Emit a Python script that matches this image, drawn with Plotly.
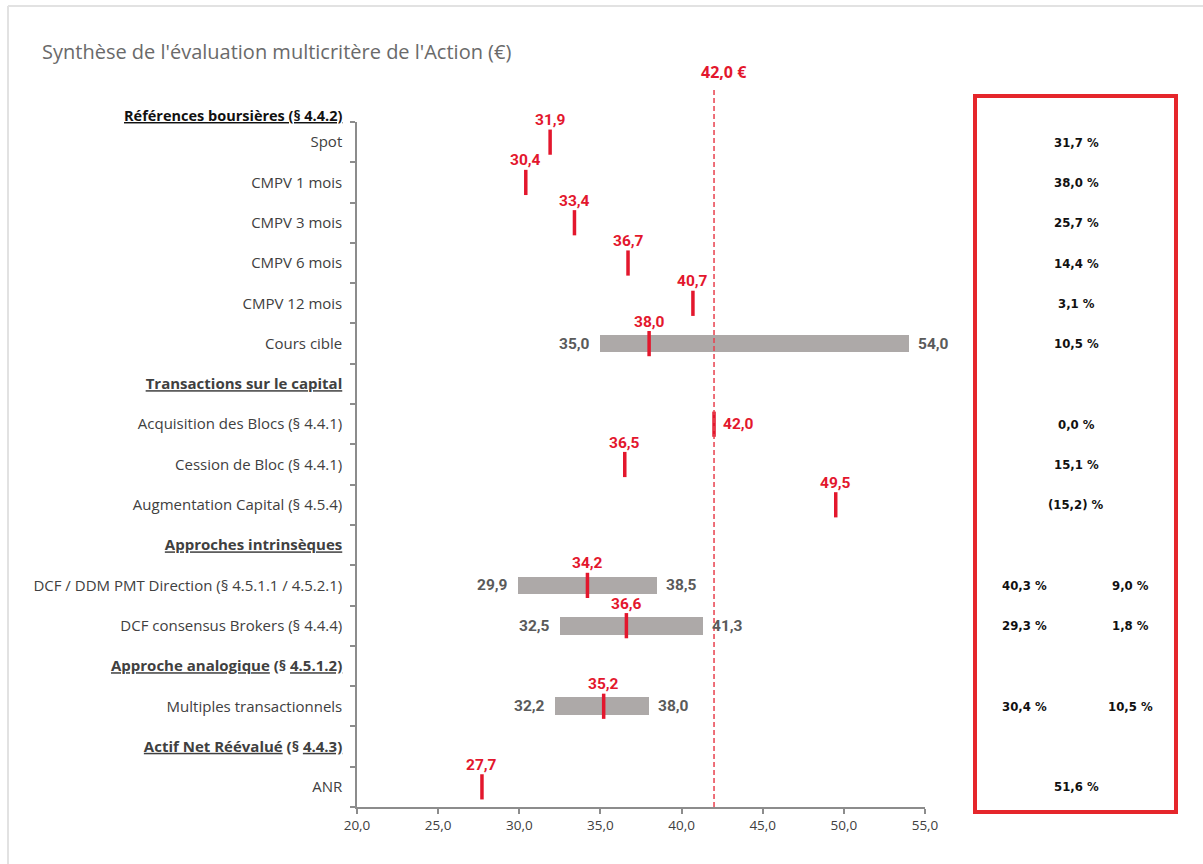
import plotly.graph_objects as go

# ---------------------------------------------------------------------------
# Data
# ---------------------------------------------------------------------------
top_header = "Références boursières (§ 4.4.2)"

rows = [
    "Spot",
    "CMPV 1 mois",
    "CMPV 3 mois",
    "CMPV 6 mois",
    "CMPV 12 mois",
    "Cours cible",
    "Transactions sur le capital",
    "Acquisition des Blocs (§ 4.4.1)",
    "Cession de Bloc (§ 4.4.1)",
    "Augmentation Capital (§ 4.5.4)",
    "Approches intrinsèques",
    "DCF / DDM PMT Direction (§ 4.5.1.1 / 4.5.2.1)",
    "DCF consensus Brokers (§ 4.4.4)",
    "Approche analogique (§ 4.5.1.2)",
    "Multiples transactionnels",
    "Actif Net Réévalué (§ 4.4.3)",
    "ANR",
]
section_rows = [
    "Transactions sur le capital",
    "Approches intrinsèques",
    "Approche analogique (§ 4.5.1.2)",
    "Actif Net Réévalué (§ 4.4.3)",
]

point_rows = [
    "Spot", "CMPV 1 mois", "CMPV 3 mois", "CMPV 6 mois", "CMPV 12 mois",
    "Cours cible", "Acquisition des Blocs (§ 4.4.1)", "Cession de Bloc (§ 4.4.1)",
    "Augmentation Capital (§ 4.5.4)", "DCF / DDM PMT Direction (§ 4.5.1.1 / 4.5.2.1)",
    "DCF consensus Brokers (§ 4.4.4)", "Multiples transactionnels", "ANR",
]
point_values = [31.9, 30.4, 33.4, 36.7, 40.7, 38.0, 42.0, 36.5, 49.5, 34.2, 36.6, 35.2, 27.7]

range_rows = [
    "Cours cible",
    "DCF / DDM PMT Direction (§ 4.5.1.1 / 4.5.2.1)",
    "DCF consensus Brokers (§ 4.4.4)",
    "Multiples transactionnels",
]
range_low = [35.0, 29.9, 32.5, 32.2]
range_high = [54.0, 38.5, 41.3, 38.0]

offer_price = 42.0

# Premium offered by the price vs each reference (%)
premium_rows = [
    "Spot", "CMPV 1 mois", "CMPV 3 mois", "CMPV 6 mois", "CMPV 12 mois",
    "Cours cible", "Acquisition des Blocs (§ 4.4.1)", "Cession de Bloc (§ 4.4.1)",
    "Augmentation Capital (§ 4.5.4)", "ANR",
]
premium_values = [31.7, 38.0, 25.7, 14.4, 3.1, 10.5, 0.0, 15.1, -15.2, 51.6]

premium_pair_rows = [
    "DCF / DDM PMT Direction (§ 4.5.1.1 / 4.5.2.1)",
    "DCF consensus Brokers (§ 4.4.4)",
    "Multiples transactionnels",
]
premium_vs_low = [40.3, 29.3, 30.4]
premium_vs_high = [9.0, 1.8, 10.5]

x_ticks = [20, 25, 30, 35, 40, 45, 50, 55]

# ---------------------------------------------------------------------------
# Styling
# ---------------------------------------------------------------------------
RED = "#E3172D"
RED_LINE = "#E8404E"
BAR_GREY = "#ADA9A8"
DARK_GREY = "#5A5A5A"
AXIS_GREY = "#8C8C8C"
LABEL_FONT = "Open Sans"
NUM_FONT = "Roboto"
BOX_FONT = "DejaVu Sans Condensed"

W, H = 1203, 864
PLOT_L, PLOT_R, PLOT_T, PLOT_B = 357, 925, 122, 807


def px(x):
    return (x - PLOT_L) / (PLOT_R - PLOT_L)


def py(y):
    return (PLOT_B - y) / (PLOT_B - PLOT_T)


def fr(v):
    return f"{v:.1f}".replace(".", ",")


def pct(v):
    return f"({fr(-v)}) %" if v < 0 else f"{fr(v)} %"


def section_markup(name):
    if "(§" in name:
        head, ref = name.split(" (§ ")
        return f"<b><u>{head}</u> (§ <u>{ref}</u></b>"
    return f"<b><u>{name}</u></b>"


row_idx = {name: i for i, name in enumerate(rows)}

tick_text = [
    section_markup(r) if r in section_rows else r
    for r in rows
]

fig = go.Figure()

# Grey valuation ranges
fig.add_trace(go.Bar(
    orientation="h",
    y=[row_idx[r] for r in range_rows],
    x=[h - l for l, h in zip(range_low, range_high)],
    base=range_low,
    width=0.44,
    marker=dict(color=BAR_GREY, line=dict(width=0)),
    hoverinfo="skip",
    showlegend=False,
))

# Red central values
fig.add_trace(go.Scatter(
    x=point_values,
    y=[row_idx[r] for r in point_rows],
    mode="markers",
    marker=dict(symbol="line-ns", size=18, line=dict(width=3.5, color=RED)),
    hoverinfo="skip",
    showlegend=False,
))

annotations = []

# Value labels above each central mark (to the right when on the offer line)
for r, v in zip(point_rows, point_values):
    if v == offer_price:
        annotations.append(dict(
            x=v, y=row_idx[r], xref="x", yref="y", text=f"<b>{fr(v)}</b>",
            showarrow=False, xanchor="left", xshift=7,
            font=dict(family=NUM_FONT, size=15.5, color=RED),
        ))
    else:
        annotations.append(dict(
            x=v, y=row_idx[r], xref="x", yref="y", text=f"<b>{fr(v)}</b>",
            showarrow=False, xanchor="center", yshift=22,
            font=dict(family=NUM_FONT, size=15.5, color=RED),
        ))

# Range bounds next to the grey bars
for r, lo, hi in zip(range_rows, range_low, range_high):
    annotations.append(dict(
        x=lo, y=row_idx[r], xref="x", yref="y", text=f"<b>{fr(lo)}</b>",
        showarrow=False, xanchor="right", xshift=-8,
        font=dict(family=NUM_FONT, size=15.5, color=DARK_GREY),
    ))
    annotations.append(dict(
        x=hi, y=row_idx[r], xref="x", yref="y", text=f"<b>{fr(hi)}</b>",
        showarrow=False, xanchor="left", xshift=7,
        font=dict(family=NUM_FONT, size=15.5, color=DARK_GREY),
    ))

# Offer price label on top of the dashed line
annotations.append(dict(
    x=offer_price, y=py(72), xref="x", yref="paper",
    text=f"<b>{fr(offer_price)} €</b>", showarrow=False,
    xanchor="center", yanchor="middle", xshift=10,
    font=dict(family=LABEL_FONT, size=16, color=RED),
))

# First section title sits above the top boundary
annotations.append(dict(
    x=0, y=py(115), xref="paper", yref="paper",
    text=f"<b><u>{top_header}</u></b>", showarrow=False,
    xanchor="right", yanchor="middle", xshift=-13,
    font=dict(family=LABEL_FONT, size=14.5, color="#111111"),
))

# Premium box contents
for r, v in zip(premium_rows, premium_values):
    annotations.append(dict(
        x=px(1076), y=row_idx[r], xref="paper", yref="y", text=f"<b>{pct(v)}</b>",
        showarrow=False, xanchor="center",
        font=dict(family=BOX_FONT, size=13, color="#111111"),
    ))
for r, a, b in zip(premium_pair_rows, premium_vs_low, premium_vs_high):
    annotations.append(dict(
        x=px(1024), y=row_idx[r], xref="paper", yref="y", text=f"<b>{pct(a)}</b>",
        showarrow=False, xanchor="center",
        font=dict(family=BOX_FONT, size=13, color="#111111"),
    ))
    annotations.append(dict(
        x=px(1130), y=row_idx[r], xref="paper", yref="y", text=f"<b>{pct(b)}</b>",
        showarrow=False, xanchor="center",
        font=dict(family=BOX_FONT, size=13, color="#111111"),
    ))

# Chart title
annotations.append(dict(
    x=px(40), y=py(52), xref="paper", yref="paper",
    text="Synthèse de l'évaluation multicritère de l'Action (€)",
    showarrow=False, xanchor="left", yanchor="middle",
    font=dict(family=LABEL_FONT, size=20, color="#6A6A6A"),
))

shapes = [
    # dashed offer-price line
    dict(type="line", xref="x", yref="paper", x0=offer_price, x1=offer_price,
         y0=0, y1=py(88), line=dict(color=RED_LINE, width=1.5, dash="5px,3px")),
    # premium box
    dict(type="rect", xref="paper", yref="paper",
         x0=px(975), x1=px(1176), y0=py(812), y1=py(96),
         line=dict(color="#E5262B", width=4)),
    # outer frame
    dict(type="line", xref="paper", yref="paper",
         x0=px(8), x1=px(W + 5), y0=py(6), y1=py(6),
         line=dict(color="#E2E2E2", width=2)),
    dict(type="line", xref="paper", yref="paper",
         x0=px(8), x1=px(8), y0=py(6), y1=py(H + 5),
         line=dict(color="#E2E2E2", width=2)),
]

fig.update_layout(
    width=W, height=H,
    margin=dict(l=PLOT_L, r=W - PLOT_R, t=PLOT_T, b=H - PLOT_B, pad=0),
    paper_bgcolor="white", plot_bgcolor="white",
    separators=", ",
    bargap=0,
    showlegend=False,
    annotations=annotations,
    shapes=shapes,
    xaxis=dict(
        range=[20, 55], tickvals=x_ticks, tickformat=".1f",
        showgrid=False, zeroline=False,
        showline=True, linecolor=AXIS_GREY, linewidth=1.5,
        ticks="outside", ticklen=5, tickcolor=AXIS_GREY, tickwidth=1.5,
        tickfont=dict(family=LABEL_FONT, size=13.5, color="#404040"),
    ),
    yaxis=dict(
        range=[len(rows) - 0.5, -0.5],
        tickvals=list(range(len(rows))), ticktext=tick_text,
        showgrid=False, zeroline=False,
        showline=True, linecolor=AXIS_GREY, linewidth=1.5,
        ticks="", ticklabelstandoff=10,
        minor=dict(tickvals=[i - 0.5 for i in range(len(rows) + 1)],
                   ticks="outside", ticklen=5, tickcolor=AXIS_GREY,
                   tickwidth=1.5, showgrid=False),
        tickfont=dict(family=LABEL_FONT, size=15, color="#404040"),
    ),
)

fig.write_html("out.html")
